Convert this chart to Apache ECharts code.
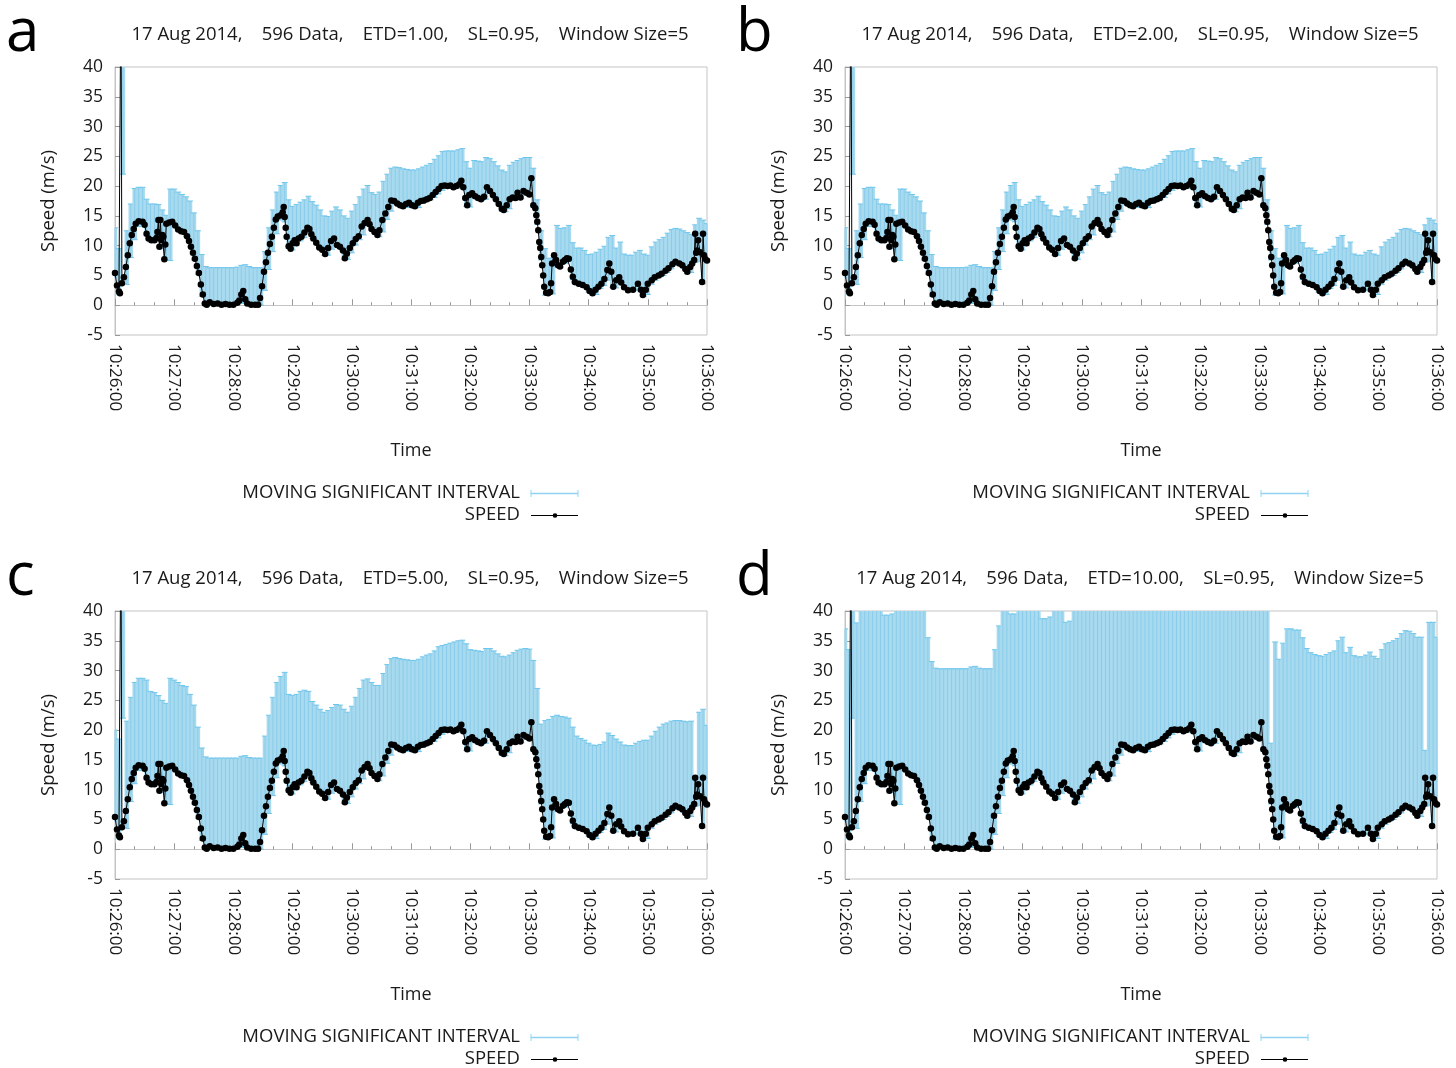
<!DOCTYPE html>
<html>
<head>
<meta charset="utf-8">
<title>Speed with moving significant interval</title>
<script src="https://cdn.jsdelivr.net/npm/echarts@6/dist/echarts.min.js"></script>
<style>
  html, body { margin: 0; padding: 0; background: #fff; }
  #chart { width: 1456px; height: 1068px; }
</style>
</head>
<body>
<div id="chart"></div>
<script>
// ---- data (time in seconds after 10:26:00) ----
const panelLetters = ['a', 'b', 'c', 'd'];
const etdLabels = ['1.00', '2.00', '5.00', '10.00'];
const yTicks = { min: -5, max: 40, step: 5 };

// measured speed samples [seconds, m/s]
const speed = [
  [0,5.4],[2,3.3],[4,2.3],[5,2.0],[6,55],[7,3.7],[9,4.7],[11,6.4],[13,8.4],[15,10.4],[17,11.8],[19,12.8],
  [21,13.7],[24,14.1],[28,14.0],[30,13.5],[32,12.0],[34,11.2],[37,10.9],[40,10.9],[42,11.3],[43,12.3],
  [44,14.3],[45,9.8],[46,14.3],[47,10.9],[48,11.8],[49,11.5],[50,7.7],[51,10.2],[52,13.7],[55,13.9],
  [58,14.0],[61,13.4],[64,12.7],[67,12.4],[70,12.3],[73,11.6],[75,10.8],[77,9.8],[79,8.8],[81,7.8],
  [83,6.6],[85,5.4],[87,3.5],[89,1.8],[91,0.3],[93,0.1],[96,0.5],[100,0.2],[104,0.3],[108,0.1],[112,0.2],
  [116,0.1],[120,0.1],[124,0.4],[126,0.8],[128,1.8],[130,2.4],[132,1.0],[134,0.3],[138,0.1],[142,0.1],
  [145,0.1],[147,1.2],[149,3.2],[151,5.6],[153,7.2],[155,8.8],[157,10.3],[159,11.5],[161,13.0],[163,14.4],
  [165,14.9],[168,15.1],[170,15.6],[171,16.5],[172,14.8],[173,13.0],[174,11.5],[176,9.9],[178,9.5],
  [180,10.4],[182,10.9],[184,10.4],[186,11.2],[189,11.5],[192,12.2],[195,13.0],[197,12.8],[199,11.9],
  [201,11.2],[204,10.5],[207,9.7],[210,9.3],[213,8.6],[216,9.6],[219,10.8],[222,11.2],[225,10.1],
  [228,9.8],[231,9.2],[233,7.9],[235,8.7],[238,9.6],[241,10.4],[244,11.1],[247,11.6],[250,13.2],
  [253,13.8],[256,14.3],[258,13.6],[260,12.8],[263,12.3],[266,11.8],[268,12.6],[271,14.3],[274,15.4],
  [277,16.5],[280,17.6],[283,17.5],[286,17.1],[289,16.8],[292,16.6],[295,17.0],[298,17.2],[301,16.8],
  [304,16.6],[307,17.2],[310,17.5],[313,17.6],[316,17.8],[319,18.0],[322,18.5],[325,19.0],[328,19.5],
  [331,20.0],[334,20.1],[337,20.0],[340,20.1],[343,19.8],[346,20.0],[349,20.3],[351,20.9],[353,19.8],
  [355,18.0],[357,16.8],[359,18.5],[362,18.8],[365,18.3],[368,18.0],[371,17.8],[374,18.2],[377,19.8],
  [380,19.2],[383,18.5],[386,17.8],[389,17.0],[392,16.2],[394,16.0],[397,16.8],[400,17.8],[403,18.1],
  [406,18.0],[408,18.9],[411,18.1],[414,19.2],[417,18.9],[420,18.6],[422,21.3],[424,16.8],[426,16.3],
  [427,15.1],[428,14.0],[429,12.6],[430,10.6],[431,9.6],[432,8.1],[433,6.7],[434,5.0],[435,3.1],
  [437,2.1],[439,2.0],[441,2.2],[442,3.7],[443,7.0],[445,8.4],[447,7.6],[449,6.7],[451,6.5],[454,7.3],
  [456,7.6],[458,7.9],[460,7.8],[462,6.0],[464,4.8],[466,3.9],[470,3.6],[474,3.4],[478,3.0],[481,2.4],
  [484,2.0],[487,2.6],[490,3.1],[493,3.6],[496,4.4],[499,5.9],[501,7.0],[503,5.6],[505,3.1],[508,4.2],
  [511,4.7],[513,3.8],[516,3.0],[520,2.5],[525,2.6],[530,3.6],[533,2.6],[535,1.7],[538,2.6],[540,3.6],
  [544,4.2],[547,4.7],[551,5.0],[554,5.3],[558,5.8],[561,6.2],[565,6.9],[568,7.3],[572,7.0],[575,6.7],
  [578,6.1],[580,5.6],[583,6.4],[585,7.0],[587,7.6],[588,12.0],[589,8.8],[590,9.2],[591,10.9],[593,8.9],
  [595,3.9],[596,12.0],[597,8.4],[598,7.8],[600,7.5]
];

// moving interval, one bar every 4 s from 0 to 600
const intervalStep = 4;
const intervalLower = [
  4.6,1.8,22.0,3.5,8.0,11.0,13.2,13.6,11.8,10.6,10.6,10.8,9.5,7.5,7.5,13.2,12.5,12.2,11.5,9.8,
  7.6,5.2,1.5,0.0,0.0,0.0,0.0,0.0,0.0,0.0,0.0,0.1,0.3,0.5,0.0,0.0,0.0,0.0,2.5,6.0,
  9.0,12.0,14.3,14.0,9.5,9.3,10.0,10.8,11.4,12.2,11.2,10.2,9.3,8.4,8.4,9.4,10.0,9.6,7.7,7.7,
  8.8,10.1,11.0,11.8,13.3,12.6,11.9,11.5,12.3,14.4,15.8,17.0,16.6,16.3,16.4,16.6,16.3,16.4,17.1,17.4,
  17.7,18.1,18.7,19.3,19.7,19.7,19.6,19.6,19.6,16.6,16.5,18.0,17.7,17.6,17.8,18.9,18.0,17.0,15.8,15.7,
  16.2,17.7,17.8,17.9,18.6,18.3,16.5,13.6,7.6,1.7,1.8,1.9,6.6,6.3,7.0,7.3,4.3,3.4,3.2,3.0,
  2.2,1.7,1.8,2.8,3.3,4.2,3.0,2.9,3.8,2.7,2.2,2.3,2.5,2.4,1.5,1.8,3.5,4.2,4.7,5.0,
  5.5,6.1,6.7,6.7,6.2,5.3,5.5,7.2,7.3,3.6,7.2
];
// upper bound for ETD = 1.00 (ETD = 2.00 gives the same bounds)
const upperETD1 = [
  13.0,9.5,60,12.5,17.0,19.6,19.8,19.8,17.8,17.0,17.0,16.9,16.0,15.1,19.5,19.5,19.0,18.6,18.2,17.5,
  15.5,12.5,8.5,6.5,6.3,6.3,6.3,6.3,6.3,6.3,6.3,6.4,6.7,6.8,6.5,6.3,6.3,6.3,9.0,13.0,
  16.0,19.0,20.1,20.6,17.7,16.6,16.9,17.3,17.7,18.3,17.4,16.8,16.0,15.0,14.9,15.8,16.5,16.0,15.0,14.6,
  15.8,16.9,18.2,19.5,20.1,18.9,18.6,19.0,20.8,22.0,23.0,23.2,23.1,22.9,22.8,22.7,22.7,22.9,23.2,23.5,
  23.8,24.5,25.1,25.8,25.9,25.9,25.9,26.1,26.3,24.1,23.0,24.3,24.2,24.1,24.8,24.6,24.1,23.4,22.7,22.4,
  23.5,24.0,24.3,24.6,24.8,24.8,23.0,17.7,12.5,9.5,7.9,7.9,13.4,12.9,13.0,13.4,10.5,9.6,9.6,9.2,
  8.5,8.6,8.9,9.4,9.9,11.4,11.7,9.6,10.6,8.6,8.4,8.4,8.9,9.2,8.6,8.4,9.8,10.6,11.0,11.4,
  12.1,12.7,12.9,12.8,12.5,12.2,11.9,13.5,14.6,14.3,13.7
];
const upperETD2 = upperETD1;
const upperETD5 = [
  20.0,18.5,60,21.5,25.5,28.0,28.7,28.7,28.4,26.5,26.3,25.8,25.0,24.5,28.7,28.4,28.0,27.5,27.3,26.0,
  24.2,20.5,17.0,15.5,15.3,15.3,15.3,15.3,15.3,15.3,15.3,15.3,15.6,15.7,15.4,15.3,15.3,15.3,19.0,22.5,
  25.5,28.0,29.0,29.7,26.0,25.8,26.0,26.5,26.7,26.5,24.8,24.2,23.5,23.0,23.3,23.8,24.3,24.2,23.5,23.0,
  24.0,25.5,27.0,28.4,28.6,28.0,27.5,27.5,29.5,31.0,32.0,32.2,32.0,31.9,31.8,31.7,31.7,31.9,32.3,32.6,
  32.8,33.3,34.0,34.2,34.4,34.6,34.8,35.0,35.1,34.5,33.5,33.4,33.3,33.2,33.7,33.7,33.3,32.8,32.4,32.3,
  32.6,33.0,33.4,33.6,33.7,33.6,31.7,27.0,21.0,21.6,21.8,22.3,22.5,22.3,22.2,22.0,20.5,19.0,18.6,18.3,
  17.8,17.5,17.4,17.6,18.0,19.5,19.1,18.5,18.0,17.5,17.4,17.4,17.8,18.1,18.3,18.3,19.0,19.8,20.5,21.0,
  21.2,21.5,21.6,21.6,21.5,21.4,21.5,11.6,23.0,23.5,20.8
];
const upperETD10 = [
  37.0,33.5,60,38.0,41,44,44,44,43.5,42,39.3,39.3,39.5,40.5,44,44,44,43,43,42,
  41,35.5,31.5,30.4,30.3,30.3,30.3,30.3,30.3,30.3,30.3,30.3,30.6,30.7,30.4,30.3,30.3,30.3,33.5,37.5,
  40.5,43,39.5,39.5,42,41,41.5,42,42,42.5,38.7,38.7,39.0,41,41,42,38.1,38.3,41,41,
  41.5,42,43,44,44.5,44,43.5,43.5,45,46,47,47,47,47,47,47,47,47,47.5,47.5,
  48,48.5,49,49.5,50,50,50,50,50,49,48,48,48,48,48.5,48.5,48,47.5,47,47,
  47.5,48,48,48.5,48.5,48.5,47,44,17.8,34.8,31.9,34.6,37.0,37.0,36.8,36.8,35.5,33.7,33.0,32.7,
  32.5,32.4,32.7,33.0,33.3,35.0,35.6,33.0,33.9,32.5,32.3,32.3,32.6,33.1,32.4,32.0,33.5,34.5,34.7,35.0,
  35.4,36.2,36.7,36.6,36.2,35.6,35.6,16.6,38.1,38.1,35.6
];
const upperByPanel = [upperETD1, upperETD2, upperETD5, upperETD10];

// ---- layout ----
const FONT = '"Open Sans", "Noto Sans", sans-serif';
const TEXT = '#1a1a1a';
const FILL = '#a8daef';
const STRIPE = '#8accea';
const CAP = '#6fc6ec';
const FRAME = '#c4c4c4';
const plotW = 592, plotH = 268;
const panels = [
  { left: 115, top: 67 },
  { left: 845, top: 67 },
  { left: 115, top: 611 },
  { left: 845, top: 611 }
];

function clockLabel(sec) {
  const m = 26 + Math.floor(sec / 60);
  const s = Math.round(sec % 60);
  return '10:' + m + ':' + (s < 10 ? '0' + s : s);
}

function renderInterval(params, api) {
  const t = api.value(0), lo = api.value(1), hi = api.value(2);
  const cs = params.coordSys;
  const pLo = api.coord([t, lo]);
  const pHi = api.coord([t, hi]);
  const half = api.size([intervalStep / 2, 0])[0];
  const children = [];
  const rect = echarts.graphic.clipRectByRect(
    { x: pLo[0] - half - 0.3, y: pHi[1], width: half * 2 + 0.6, height: pLo[1] - pHi[1] },
    { x: cs.x, y: cs.y, width: cs.width, height: cs.height }
  );
  if (rect) children.push({ type: 'rect', shape: rect, style: { fill: FILL } });
  const top = Math.max(pHi[1], cs.y), bottom = Math.min(pLo[1], cs.y + cs.height);
  const cx = pLo[0];
  if (cx >= cs.x && cx <= cs.x + cs.width && bottom > top) {
    children.push({ type: 'line', shape: { x1: cx, y1: top, x2: cx, y2: bottom },
      style: { stroke: STRIPE, lineWidth: 1 } });
  }
  const capHalf = 3;
  const x1 = Math.max(cx - capHalf, cs.x), x2 = Math.min(cx + capHalf, cs.x + cs.width);
  [pHi[1], pLo[1]].forEach(function (y) {
    if (y >= cs.y && y <= cs.y + cs.height) {
      children.push({ type: 'line', shape: { x1: x1, y1: y, x2: x2, y2: y },
        style: { stroke: CAP, lineWidth: 1 } });
    }
  });
  return { type: 'group', children: children };
}

const grids = [], xAxes = [], yAxes = [], series = [], graphics = [];

panels.forEach(function (p, k) {
  grids.push({ left: p.left, top: p.top, width: plotW, height: plotH,
    show: true, borderColor: FRAME, borderWidth: 1, backgroundColor: 'transparent' });

  xAxes.push({
    gridIndex: k, type: 'value', min: 0, max: 600, interval: 60,
    name: 'Time', nameLocation: 'middle', nameGap: 107,
    nameTextStyle: { fontFamily: FONT, fontSize: 18, color: TEXT },
    axisLine: { show: true, lineStyle: { color: FRAME } },
    axisTick: { show: true, inside: true, length: 6, lineStyle: { color: '#999' } },
    minorTick: { show: true, splitNumber: 3, length: 3, lineStyle: { color: '#999' } },
    splitLine: { show: false },
    axisLabel: { rotate: -90, margin: 9, fontFamily: FONT, fontSize: 17, color: TEXT,
      formatter: clockLabel }
  });

  yAxes.push({
    gridIndex: k, type: 'value', min: yTicks.min, max: yTicks.max, interval: yTicks.step,
    name: 'Speed (m/s)', nameLocation: 'middle', nameGap: 57, nameRotate: 90,
    nameTextStyle: { fontFamily: FONT, fontSize: 18.5, color: TEXT },
    axisLine: { show: true, lineStyle: { color: FRAME } },
    axisTick: { show: true, inside: true, length: 5, lineStyle: { color: '#999' } },
    splitLine: { show: false },
    axisLabel: { margin: 12, fontFamily: FONT, fontSize: 17.5, color: TEXT }
  });

  const upper = upperByPanel[k];
  const bars = intervalLower.map(function (lo, i) { return [i * intervalStep, lo, upper[i]]; });

  series.push({
    name: 'MOVING SIGNIFICANT INTERVAL', type: 'custom', xAxisIndex: k, yAxisIndex: k,
    renderItem: renderInterval, encode: { x: 0, y: [1, 2] }, data: bars, z: 2, silent: true
  });
  series.push({
    name: 'SPEED', type: 'line', xAxisIndex: k, yAxisIndex: k, data: speed,
    symbol: 'circle', symbolSize: 6.5, showSymbol: true, showAllSymbol: true, clip: true,
    lineStyle: { color: '#000', width: 1 }, itemStyle: { color: '#000' }, z: 3, silent: true
  });

  // panel letter
  graphics.push({ type: 'text', x: p.left - 109, y: p.top - 33,
    style: { text: panelLetters[k], font: '60px ' + FONT, fill: '#000',
      align: 'left', verticalAlign: 'middle' } });
  // panel title
  graphics.push({ type: 'text', x: p.left + plotW / 2 - 1, y: p.top - 32,
    style: { text: '17 Aug 2014,    596 Data,    ETD=' + etdLabels[k] + ',    SL=0.95,    Window Size=5',
      font: '18.5px ' + FONT, fill: TEXT, align: 'center', verticalAlign: 'middle' } });

  // legend
  const lx = p.left + 405, ly1 = p.top + 426, ly2 = p.top + 448;
  graphics.push({ type: 'text', x: lx, y: ly1,
    style: { text: 'MOVING SIGNIFICANT INTERVAL', font: '18.5px ' + FONT, fill: TEXT,
      align: 'right', verticalAlign: 'middle' } });
  graphics.push({ type: 'line', shape: { x1: lx + 11, y1: ly1 + 0.5, x2: lx + 58, y2: ly1 + 0.5 },
    style: { stroke: '#8fd3f1', lineWidth: 1.5 } });
  graphics.push({ type: 'line', shape: { x1: lx + 11, y1: ly1 - 3, x2: lx + 11, y2: ly1 + 4 },
    style: { stroke: '#8fd3f1', lineWidth: 1 } });
  graphics.push({ type: 'line', shape: { x1: lx + 58, y1: ly1 - 3, x2: lx + 58, y2: ly1 + 4 },
    style: { stroke: '#8fd3f1', lineWidth: 1 } });
  graphics.push({ type: 'text', x: lx, y: ly2,
    style: { text: 'SPEED', font: '18.5px ' + FONT, fill: TEXT, align: 'right', verticalAlign: 'middle' } });
  graphics.push({ type: 'line', shape: { x1: lx + 11, y1: ly2 + 0.5, x2: lx + 58, y2: ly2 + 0.5 },
    style: { stroke: '#000', lineWidth: 1 } });
  graphics.push({ type: 'circle', shape: { cx: lx + 35, cy: ly2 + 0.5, r: 2.3 }, style: { fill: '#000' } });
});

const chart = echarts.init(document.getElementById('chart'), null, { renderer: 'canvas' });
chart.setOption({
  animation: false,
  backgroundColor: '#fff',
  grid: grids,
  xAxis: xAxes,
  yAxis: yAxes,
  series: series,
  graphic: graphics
});
</script>
</body>
</html>
